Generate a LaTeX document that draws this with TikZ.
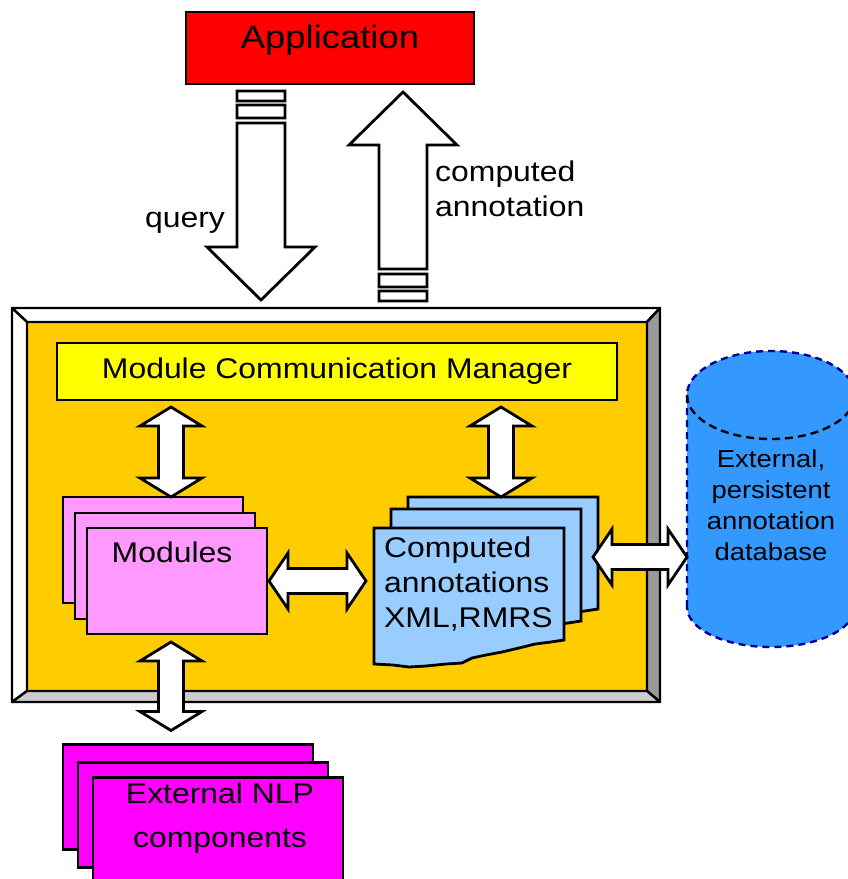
\documentclass[tikz,border=0pt]{standalone}
\usepackage{fontspec}
\newfontfamily\diafont{Liberation Sans}[FakeStretch=1.12]
\usetikzlibrary{calc,positioning}
\definecolor{appred}{HTML}{FF0000}
\definecolor{mgryellow}{HTML}{FFFF00}
\definecolor{coreorange}{HTML}{FFCC00}
\definecolor{modpink}{HTML}{FF99FF}
\definecolor{nlpmagenta}{HTML}{FF00FF}
\definecolor{annblue}{HTML}{99CCFF}
\definecolor{dbblue}{HTML}{3399FF}
\definecolor{dbedge}{HTML}{000099}
\definecolor{bevdark}{HTML}{999999}
\definecolor{bevlight}{HTML}{CCCCCC}
\tikzset{
  txt/.style    ={font=\diafont\fontsize{28.5}{#1}\selectfont,inner sep=0pt},
  txt/.default  =35,
  box/.style    ={draw,line width=2.8pt,inner sep=0pt,outer sep=0pt},
  appbox/.style ={box,fill=appred,minimum width=288,minimum height=72,
                  font=\diafont\fontsize{32.5}{38}\selectfont,text depth=23.5pt},
  mgrbox/.style ={box,fill=mgryellow,minimum width=560,minimum height=57,txt},
  framebox/.style={box,minimum width=648,minimum height=394},
  corebox/.style={box,fill=coreorange,minimum width=620,minimum height=369},
  bevel/.style  ={line width=2.4pt,line join=round},
  modbox/.style ={box,fill=modpink,minimum width=180,minimum height=106},
  nlpbox/.style ={box,fill=nlpmagenta,minimum width=250,minimum height=105},
  docbox/.style ={inner sep=0pt,outer sep=0pt,minimum width=190,minimum height=112},
  docline/.style={line width=2.8pt,line join=miter,fill=annblue},
  dbline/.style ={line width=2.4pt,draw=dbedge,dash pattern=on 7pt off 5pt,fill=dbblue},
  dbtext/.style ={font=\diafont\fontsize{24.5}{30.7}\selectfont,inner sep=0pt,align=center},
  % block arrows
  shaft/.store in=\shaftw, head/.store in=\headw, headlen/.store in=\headl,
  shaft=12.5pt, head=31pt, headlen=19pt,
  blk/.style    ={draw,fill=white,line width=2.8pt,line join=miter},
  both/.style   ={blk,to path={
      -- ($(\tikztostart)!\headl!(\tikztotarget)!\headw!90:(\tikztotarget)$)
      -- ($(\tikztostart)!\headl!(\tikztotarget)!\shaftw!90:(\tikztotarget)$)
      -- ($(\tikztotarget)!\headl!(\tikztostart)!\shaftw!-90:(\tikztostart)$)
      -- ($(\tikztotarget)!\headl!(\tikztostart)!\headw!-90:(\tikztostart)$)
      -- (\tikztotarget)
      -- ($(\tikztotarget)!\headl!(\tikztostart)!\headw!90:(\tikztostart)$)
      -- ($(\tikztotarget)!\headl!(\tikztostart)!\shaftw!90:(\tikztostart)$)
      -- ($(\tikztostart)!\headl!(\tikztotarget)!\shaftw!-90:(\tikztotarget)$)
      -- ($(\tikztostart)!\headl!(\tikztotarget)!\headw!-90:(\tikztotarget)$)
      -- cycle}},
  one/.style    ={blk,shaft=24pt,head=54pt,headlen=53pt,to path={
      ($(\tikztostart)!7pt!(\tikztotarget)!\shaftw!90:(\tikztotarget)$)
      -- ($(\tikztostart)!17pt!(\tikztotarget)!\shaftw!90:(\tikztotarget)$)
      -- ($(\tikztostart)!17pt!(\tikztotarget)!\shaftw!-90:(\tikztotarget)$)
      -- ($(\tikztostart)!7pt!(\tikztotarget)!\shaftw!-90:(\tikztotarget)$) -- cycle
      ($(\tikztostart)!21pt!(\tikztotarget)!\shaftw!90:(\tikztotarget)$)
      -- ($(\tikztostart)!34pt!(\tikztotarget)!\shaftw!90:(\tikztotarget)$)
      -- ($(\tikztostart)!34pt!(\tikztotarget)!\shaftw!-90:(\tikztotarget)$)
      -- ($(\tikztostart)!21pt!(\tikztotarget)!\shaftw!-90:(\tikztotarget)$) -- cycle
      ($(\tikztostart)!39pt!(\tikztotarget)!\shaftw!90:(\tikztotarget)$)
      -- ($(\tikztotarget)!\headl!(\tikztostart)!\shaftw!-90:(\tikztostart)$)
      -- ($(\tikztotarget)!\headl!(\tikztostart)!\headw!-90:(\tikztostart)$)
      -- (\tikztotarget)
      -- ($(\tikztotarget)!\headl!(\tikztostart)!\headw!90:(\tikztostart)$)
      -- ($(\tikztotarget)!\headl!(\tikztostart)!\shaftw!90:(\tikztostart)$)
      -- ($(\tikztostart)!39pt!(\tikztotarget)!\shaftw!-90:(\tikztotarget)$)
      -- cycle}},
}
\begin{document}
\begin{tikzpicture}[x=1pt,y=-1pt]
\useasboundingbox (0,0) rectangle (847,879);
\node[appbox] (app) at (330,48) {Application};
% bevelled frame round the manager
\node[framebox] (frame) at (336,505) {};
\node[corebox] (core) at (337,506.5) {};
\filldraw[bevel,fill=white] (frame.north west) -- (frame.north east) -- (core.north east) -- (core.north west) -- cycle;
\filldraw[bevel,fill=white] (frame.north west) -- (core.north west) -- (core.south west) -- (frame.south west) -- cycle;
\filldraw[bevel,fill=bevdark] (frame.north east) -- (frame.south east) -- (core.south east) -- (core.north east) -- cycle;
\filldraw[bevel,fill=bevlight] (frame.south west) -- (core.south west) -- (core.south east) -- (frame.south east) -- cycle;
\node[mgrbox] (mcm) at (337,371.5) {Module Communication Manager};
% modules
\node[modbox] (modsA) at (153,550) {};
\node[modbox] (modsB) at (165,566) {};
\node[modbox] (mods) at (177,581) {};
\node[txt,anchor=base] (modslbl) at ($(mods.north)+(-5,34)$) {Modules};
% computed annotations, torn bottom edge
\node[docbox] (annA) at (503,553) {};
\node[docbox] (annB) at (486,565) {};
\node[docbox] (annC) at (469,584) {};
\foreach \s in {annA,annB,annC}
  \draw[docline,shift={(\s.south east)}] (\s.north west) -- (\s.north east) -- (0,0)
    -- (-13,2) -- (-29,4) -- (-45,8) -- (-62,12) -- (-78,15) -- (-92,18) -- (-102,23)
    -- (-118,24) -- (-138,26) -- (-155,27) -- (-171,25) -- (-190,24) -- cycle;
\node[txt,align=left,anchor=north west] (annlbl) at ($(annC.north west)+(10,9)$)
  {Computed\\annotations\\XML,RMRS};
% external nlp components
\node[nlpbox] (nlpA) at (188,797) {};
\node[nlpbox] (nlpB) at (203,815) {};
\node[nlpbox] (nlp) at (218,830) {};
\node[txt=44,align=center,anchor=north] (nlplbl) at ($(nlp.north)+(2,5)$) {External NLP\\components};
% database cylinder
\draw[dbline] (687,607) -- (687,395) arc[start angle=180,end angle=360,x radius=84,y radius=44]
  -- (855,607) arc[start angle=0,end angle=180,x radius=84,y radius=40] -- cycle;
\draw[line width=2.4pt,dash pattern=on 8pt off 5pt] (687,395) arc[start angle=180,end angle=0,x radius=84,y radius=44];
\coordinate (dbside) at (687,500);
\node[dbtext,anchor=north] (db) at (771,450) {External,\\persistent\\annotation\\database};
% query / answer
\coordinate (qs) at ($(app.south)+(-69,0)$);
\coordinate (qt) at ($(qs |- frame.north)+(0,-8)$);
\coordinate (cs) at ($(frame.north -| app.south)+(73,0)$);
\coordinate (ct) at ($(cs |- app.south)+(0,8)$);
\draw[one] (qs) to (qt);
\draw[one] (cs) to (ct);
\node[txt,anchor=base] (query) at (185,227) {query};
\node[txt,align=left,anchor=north west] (answer) at (435,161) {computed\\annotation};
% links between the parts
\coordinate (m1) at ($(mcm.south -| modsA.north)+(18,7)$);
\coordinate (m2) at ($(modsA.north)+(18,0)$);
\coordinate (a1) at ($(mcm.south -| annA.north)+(-2,7)$);
\coordinate (a2) at ($(annA.north)+(-2,0)$);
\coordinate (h1) at ($(mods.east)+(2,0)$);
\coordinate (h2) at ($(mods.east -| annC.west)+(-8,0)$);
\coordinate (d1) at ($(annA.east)+(-5,4)$);
\coordinate (d2) at (d1 -| dbside);
\coordinate (n1) at ($(mods.south -| modsA.south)+(18,8)$);
\coordinate (n2) at ($(nlpA.north)+(-17,-14)$);
\draw[both] (m1) to (m2);
\draw[both] (a1) to (a2);
\draw[both] (n1) to (n2);
\draw[both,head=28pt] (h1) to (h2);
\draw[both,head=28pt] (d1) to (d2);
\end{tikzpicture}
\end{document}
